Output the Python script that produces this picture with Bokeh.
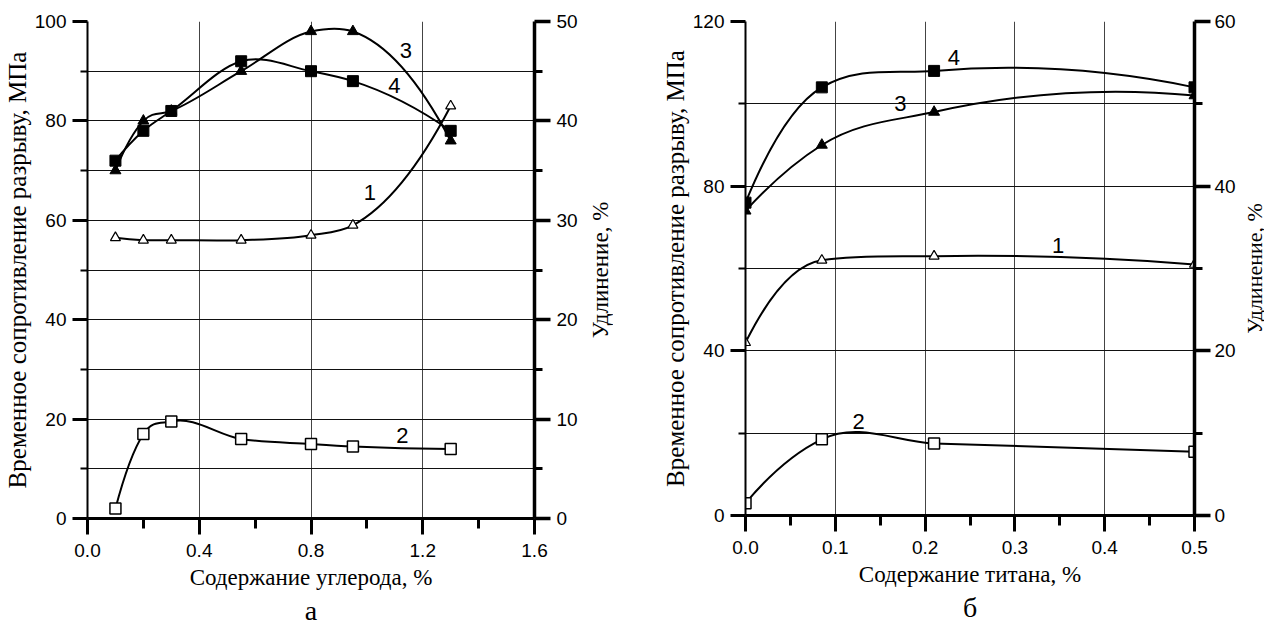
import math
from bokeh.plotting import figure
from bokeh.models import Range1d, LinearAxis, FixedTicker, PrintfTickFormatter, Title, ColumnDataSource
from bokeh.layouts import row
from bokeh.embed import file_html
from bokeh.resources import INLINE
from bokeh.core.properties import value

# ---------------- Panel "а": carbon content ----------------
a_x = [0.1, 0.2, 0.3, 0.55, 0.8, 0.95, 1.3]
a_curve1 = [56.5, 56, 56, 56, 57, 59, 83]      # open triangles
a_curve2 = [2, 17, 19.5, 16, 15, 14.5, 14]     # open squares
a_curve3 = [70, 80, 82, 90, 98, 98, 76]        # filled triangles
a_curve4 = [72, 78, 82, 92, 90, 88, 78]        # filled squares
a_xticks = [0.0, 0.4, 0.8, 1.2, 1.6]
a_xminor = [0.2, 0.6, 1.0, 1.4]
a_xgrid = [0.4, 0.8, 1.2]
a_yticks = [0, 20, 40, 60, 80, 100]
a_yminor = [10, 30, 50, 70, 90]
a_ygrid = [10, 20, 30, 40, 50, 60, 70, 80, 90, 100]
a_rticks = [0, 10, 20, 30, 40, 50]
a_rminor = [5, 15, 25, 35, 45]
a_lab_text = ["1", "2", "3", "4"]
a_lab_x = [1.011, 1.127, 1.14, 1.098]
a_lab_y = [65.5, 16.6, 94.2, 87.2]

# ---------------- Panel "б": titanium content ----------------
b_x = [0.0, 0.085, 0.21, 0.5]
b_curve1 = [42, 62, 63, 61]
b_curve2 = [3, 18.5, 17.5, 15.5]
b_curve3 = [74, 90, 98, 102]
b_curve4 = [76, 104, 108, 104]
b_xticks = [0.0, 0.1, 0.2, 0.3, 0.4, 0.5]
b_xminor = [0.05, 0.15, 0.25, 0.35, 0.45]
b_xgrid = [0.1, 0.2, 0.3, 0.4]
b_yticks = [0, 40, 80, 120]
b_yminor = [20, 60, 100]
b_ygrid = [20, 40, 60, 80, 100, 120]
b_rticks = [0, 20, 40, 60]
b_rminor = [10, 30, 50]
b_lab_text = ["1", "2", "3", "4"]
b_lab_x = [0.348, 0.126, 0.1725, 0.232]
b_lab_y = [65.6, 22.8, 100, 111.2]

Y_TITLE = "Временное сопротивление разрыву, МПа"
R_TITLE = "Удлинение, %"

TICK_FONT = "Liberation Sans"
SERIF = "Liberation Serif"
TOTAL_H = 627


def hermite(xs, ys, limit=4.0):
    """Smooth curve through the data points (cubic Hermite, Bezier form)."""
    n = len(xs)
    h = [xs[i + 1] - xs[i] for i in range(n - 1)]
    d = [(ys[i + 1] - ys[i]) / h[i] for i in range(n - 1)]
    m = [0.0] * n
    for i in range(1, n - 1):
        m[i] = (h[i] * d[i - 1] + h[i - 1] * d[i]) / (h[i - 1] + h[i])
        for dk in (d[i - 1], d[i]):
            if dk != 0 and m[i] * dk > 0 and abs(m[i]) > limit * abs(dk):
                m[i] = limit * dk
    m[0] = 2 * d[0] - m[1]
    m[-1] = 2 * d[-1] - m[-2]
    return dict(
        x0=xs[:-1], y0=ys[:-1], x1=xs[1:], y1=ys[1:],
        cx0=[xs[i] + h[i] / 3 for i in range(n - 1)],
        cy0=[ys[i] + m[i] * h[i] / 3 for i in range(n - 1)],
        cx1=[xs[i + 1] - h[i] / 3 for i in range(n - 1)],
        cy1=[ys[i + 1] - m[i + 1] * h[i] / 3 for i in range(n - 1)],
    )


def make_panel(xs, curves, xr, yr, rr, xticks, xminor, xgrid, yticks, yminor, ygrid,
               rticks, rminor, labs, xtitle, letter, fw, fh, mbl, mbr, r_standoff):
    p = figure(frame_width=fw, frame_height=fh, x_range=Range1d(*xr), y_range=Range1d(*yr),
               output_backend="svg", toolbar_location=None,
               min_border_left=mbl, min_border_right=mbr, min_border_top=21,
               min_border_bottom=TOTAL_H - 21 - fh)
    p.outline_line_color = None
    p.background_fill_color = "white"
    p.border_fill_color = "white"

    # grids
    p.xgrid.ticker = FixedTicker(ticks=xgrid)
    p.ygrid.ticker = FixedTicker(ticks=ygrid)
    p.xgrid.grid_line_color = "#444444"
    p.ygrid.grid_line_color = "#111111"
    p.xgrid.grid_line_width = 1
    p.ygrid.grid_line_width = 1

    # bottom axis
    xa = p.xaxis[0]
    xa.ticker = FixedTicker(ticks=xticks, minor_ticks=xminor)
    xa.formatter = PrintfTickFormatter(format="%.1f")
    xa.axis_line_width = 3
    xa.major_tick_line_width = 3
    xa.minor_tick_line_width = 3
    xa.major_tick_out = 16
    xa.major_tick_in = 0
    xa.minor_tick_out = 10
    xa.minor_tick_in = 0
    xa.major_label_standoff = 9
    xa.axis_label = xtitle
    xa.axis_label_standoff = 5
    xa.axis_label_text_font_size = "23px"

    # left axis
    ya = p.yaxis[0]
    ya.ticker = FixedTicker(ticks=yticks, minor_ticks=yminor)
    ya.axis_line_width = 2
    ya.major_tick_line_width = 3
    ya.minor_tick_line_width = 2
    ya.major_tick_out = 15
    ya.major_tick_in = 0
    ya.minor_tick_out = 7
    ya.minor_tick_in = 0
    ya.major_label_standoff = 6
    ya.axis_label = Y_TITLE
    ya.axis_label_standoff = 1
    ya.axis_label_text_font_size = "25px"

    # right axis (elongation scale)
    p.extra_y_ranges = {"r": Range1d(*rr)}
    ra = LinearAxis(y_range_name="r")
    ra.ticker = FixedTicker(ticks=rticks, minor_ticks=rminor)
    ra.axis_line_width = 3.5
    ra.major_tick_line_width = 3.5
    ra.minor_tick_line_width = 3
    ra.major_tick_out = 16
    ra.major_tick_in = 0
    ra.minor_tick_out = 8
    ra.minor_tick_in = 0
    ra.major_label_standoff = r_standoff
    p.add_layout(ra, "right")

    for ax in (xa, ya, ra):
        ax.axis_line_color = "black"
        ax.major_tick_line_color = "black"
        ax.minor_tick_line_color = "black"
        ax.major_label_text_font = TICK_FONT
        ax.major_label_text_font_size = "19px"
        ax.major_label_text_color = "black"
        ax.axis_label_text_font = SERIF
        ax.axis_label_text_font_style = "normal"
        ax.axis_label_text_color = "black"

    # curves
    styles = [
        dict(marker="triangle", fill="white", size=10, lw=1.2),
        dict(marker="square", fill="white", size=11, lw=1.5),
        dict(marker="triangle", fill="black", size=11, lw=1),
        dict(marker="square", fill="black", size=11, lw=1),
    ]
    for ys in curves:
        src = ColumnDataSource(hermite(xs, ys))
        p.bezier(x0="x0", y0="y0", x1="x1", y1="y1", cx0="cx0", cy0="cy0", cx1="cx1", cy1="cy1",
                 source=src, line_color="black", line_width=2)
    for ys, st in zip(curves, styles):
        p.scatter(xs, ys, marker=st["marker"], size=st["size"], fill_color=st["fill"],
                  line_color="black", line_width=st["lw"])

    lt, lx, ly = labs
    p.text(x=lx, y=ly, text=lt, text_font=value(TICK_FONT), text_font_size="22px",
           text_align="center", text_baseline="middle", text_color="black")

    t = Title(text=letter, align="center", text_font=SERIF, text_font_size="28px",
              text_font_style="normal", text_color="black", standoff=0)
    p.add_layout(t, "below")
    return p


def title_strip(text, fh, left, size):
    """Narrow figure whose only content is the rotated right-hand axis title."""
    t = figure(frame_width=1, frame_height=fh, x_range=Range1d(0, 1), y_range=Range1d(0, 1),
               output_backend="svg", toolbar_location=None, x_axis_location=None,
               min_border_left=left, min_border_right=0, min_border_top=21,
               min_border_bottom=TOTAL_H - 21 - fh)
    t.outline_line_color = None
    t.grid.visible = False
    t.background_fill_color = "white"
    t.border_fill_color = "white"
    ax = t.yaxis[0]
    ax.ticker = FixedTicker(ticks=[])
    ax.axis_line_color = None
    ax.major_tick_line_color = None
    ax.minor_tick_line_color = None
    ax.major_tick_out = 0
    ax.major_tick_in = 0
    ax.minor_tick_out = 0
    ax.minor_tick_in = 0
    ax.major_label_standoff = 0
    ax.axis_label = text
    ax.axis_label_standoff = 0
    ax.axis_label_text_font = SERIF
    ax.axis_label_text_font_size = size
    ax.axis_label_text_font_style = "normal"
    ax.axis_label_text_color = "black"
    return t


p1 = make_panel(a_x, [a_curve1, a_curve2, a_curve3, a_curve4], (0, 1.6), (0, 100), (0, 50),
                a_xticks, a_xminor, a_xgrid, a_yticks, a_yminor, a_ygrid, a_rticks, a_rminor,
                (a_lab_text, a_lab_x, a_lab_y), "Содержание углерода, %", "а",
                447, 497, 86, 45, 6)
t1 = title_strip(R_TITLE, 497, 32, "23px")
p2 = make_panel(b_x, [b_curve1, b_curve2, b_curve3, b_curve4], (0, 0.5), (0, 120), (0, 60),
                b_xticks, b_xminor, b_xgrid, b_yticks, b_yminor, b_ygrid, b_rticks, b_rminor,
                (b_lab_text, b_lab_x, b_lab_y), "Содержание титана, %", "б",
                449, 494, 132, 41, 4)
t2 = title_strip(R_TITLE, 494, 10, "22px")

layout = row(p1, t1, p2, t2)
open("out.html", "w").write(file_html(layout, INLINE))
